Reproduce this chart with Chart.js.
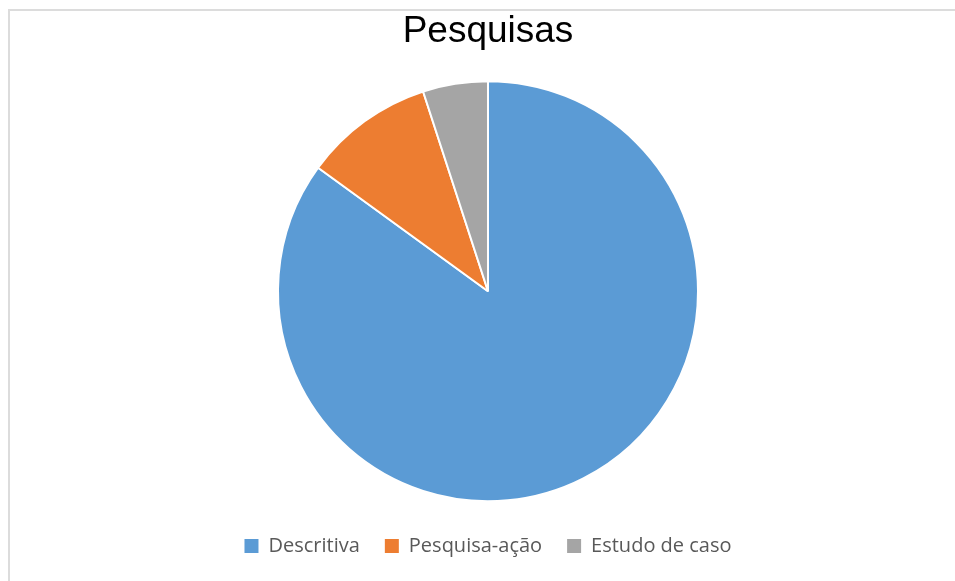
<!DOCTYPE html>
<html>
<head>
<meta charset="utf-8">
<script src="https://cdn.jsdelivr.net/npm/chart.js@4"></script>
<style>
    html, body { margin: 0; padding: 0; overflow: hidden; background: #fff; }
    #frame { position: absolute; left: 8px; top: 9px; width: 2000px; height: 2000px; border: 2px solid #dcdcdc; }
    #wrap { position: absolute; left: 0; top: 0; width: 955px; height: 581px; }
</style>
</head>
<body>
<div id="frame"></div>
<div id="wrap"><canvas id="canvas"></canvas></div>
<script>
const labels = ['Descritiva', 'Pesquisa-ação', 'Estudo de caso'];
const values = [17, 2, 1];
const colors = ['#5B9BD5', '#ED7D31', '#A5A5A5'];

const ctx = document.getElementById('canvas').getContext('2d');
window.myPie = new Chart(ctx, {
    type: 'pie',
    data: {
        labels: labels,
        datasets: [{
            data: values,
            backgroundColor: colors,
            borderColor: '#fff',
            borderWidth: 2,
            radius: 210
        }]
    },
    options: {
        responsive: true,
        maintainAspectRatio: false,
        animation: false,
        layout: { padding: { left: 21, top: 0, right: 0, bottom: 15 } },
        plugins: {
            title: {
                display: true,
                text: 'Pesquisas',
                color: '#000',
                font: { family: 'Liberation Sans', size: 37, weight: 'normal' },
                padding: { top: 10, bottom: 17 }
            },
            legend: {
                position: 'bottom',
                labels: {
                    boxWidth: 14,
                    boxHeight: 14,
                    padding: 25,
                    color: '#595959',
                    font: { family: 'Open Sans', size: 20 },
                    // no white outline round the legend boxes
                    generateLabels: (chart) => Chart.overrides.pie.plugins.legend.labels
                        .generateLabels(chart).map(l => ({ ...l, lineWidth: 0 }))
                }
            },
            tooltip: { enabled: false }
        }
    }
});
</script>
</body>
</html>
